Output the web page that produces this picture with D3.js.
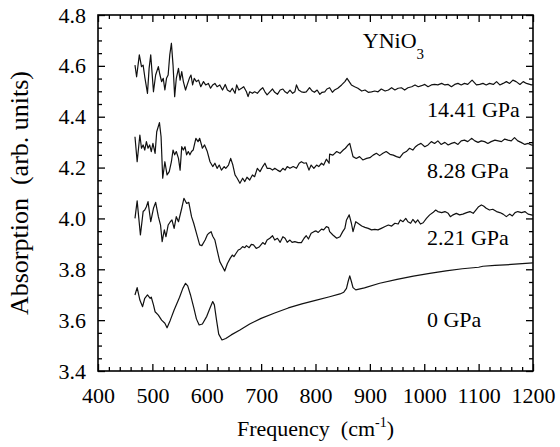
<!DOCTYPE html>
<html>
<head>
<meta charset="utf-8">
<script src="https://cdn.jsdelivr.net/npm/d3@7"></script>
<style>
  body { margin: 0; background: #fff; }
  svg { display: block; }
</style>
</head>
<body>
<div id="chart"></div>
<script>
// -- DATA -- [frequency (cm-1), absorption]

var series0 = [
  [468,3.699],[472,3.728],[477,3.679],[482,3.653],[486,3.686],[491,3.699],[496,3.686],[498,3.69],
  [502,3.66],[505,3.633],[511,3.62],[517,3.60],[523,3.588],[527,3.57],[533,3.60],[540,3.64],
  [550,3.69],[556,3.725],[561,3.745],[565,3.735],[570,3.70],[576,3.65],[581,3.605],[586,3.581],
  [592,3.585],[600,3.615],[606,3.648],[611,3.673],[614,3.66],[618,3.60],[622,3.545],[628,3.522],
  [635,3.528],[645,3.542],[661,3.561],[679,3.585],[700,3.607],[725,3.628],[750,3.648],[775,3.664],
  [800,3.678],[826,3.692],[845,3.703],[852,3.710],[857,3.725],[860,3.752],[863,3.774],[866,3.752],
  [869,3.728],[874,3.719],[890,3.727],[918,3.745],[950,3.76],[980,3.773],[1010,3.784],[1040,3.794],
  [1070,3.802],[1100,3.808],[1108,3.812],[1130,3.815],[1160,3.819],[1200,3.825]
]

var series221 = [
  [468,4.000],[472,4.069],[478,3.935],[483,4.027],[486,4.033],[489,4.046],[492,4.066],[497,3.987],
  [502,4.040],[506,4.063],[511,4.007],[515,3.974],[518,3.909],[522,3.955],[525,3.928],[529,3.974],
  [533,3.987],[536,3.994],[540,3.961],[544,4.007],[548,3.987],[554,4.040],[558,4.079],[563,4.059],
  [567,4.063],[572,4.007],[576,3.981],[581,3.942],[587,3.896],[591,3.893],[597,3.915],[601,3.935],
  [604,3.942],[608,3.948],[611,3.930],[615,3.915],[619,3.876],[624,3.830],[629,3.810],[633,3.793],
  [638,3.823],[643,3.843],[647,3.856],[650,3.850],[654,3.863],[658,3.876],[662,3.880],[666,3.889],
  [670,3.885],[673,3.893],[678,3.885],[682,3.898],[686,3.896],[691,3.882],[697,3.889],[703,3.905],
  [707,3.898],[711,3.915],[716,3.922],[721,3.932],[725,3.915],[730,3.922],[735,3.906],[740,3.928],
  [744,3.922],[748,3.906],[753,3.915],[757,3.906],[762,3.909],[768,3.905],[774,3.905],[779,3.922],
  [783,3.932],[787,3.919],[792,3.942],[797,3.948],[801,3.951],[805,3.945],[811,3.958],[815,3.955],
  [820,3.968],[824,3.964],[826,3.948],[832,3.935],[839,3.922],[845,3.928],[850,3.948],[854,3.961],
  [857,3.994],[862,4.014],[866,3.981],[869,3.948],[874,3.987],[878,3.981],[885,3.970],[891,3.965],
  [897,3.961],[903,3.955],[909,3.957],[915,3.955],[921,3.961],[928,3.968],[934,3.974],[940,3.970],
  [946,3.981],[952,3.978],[956,3.994],[961,3.987],[966,4.000],[970,3.987],[975,3.981],[979,3.996],
  [984,3.983],[988,3.994],[993,3.978],[998,3.983],[1004,4.000],[1010,4.014],[1016,4.023],[1021,4.033],
  [1025,4.027],[1032,4.023],[1038,4.027],[1044,4.020],[1048,4.007],[1053,4.014],[1059,4.020],[1065,4.014],
  [1071,4.017],[1078,4.023],[1084,4.027],[1090,4.020],[1096,4.036],[1100,4.046],[1105,4.053],[1109,4.049],
  [1114,4.040],[1120,4.033],[1126,4.036],[1133,4.027],[1139,4.023],[1145,4.017],[1151,4.007],[1157,4.017],
  [1162,4.010],[1167,4.023],[1172,4.027],[1179,4.023],[1185,4.027],[1191,4.017],[1197,4.014],[1200,4.012]
]

var series828 = [
  [468,4.321],[472,4.223],[477,4.328],[480,4.276],[483,4.289],[486,4.269],[489,4.302],[492,4.276],
  [495,4.289],[498,4.263],[501,4.295],[505,4.256],[508,4.341],[513,4.377],[516,4.321],[519,4.158],
  [523,4.223],[527,4.171],[531,4.184],[535,4.223],[538,4.269],[541,4.250],[544,4.263],[548,4.236],
  [551,4.190],[554,4.282],[557,4.269],[560,4.282],[563,4.250],[566,4.263],[569,4.250],[572,4.263],
  [575,4.269],[580,4.315],[584,4.302],[587,4.315],[592,4.276],[596,4.289],[601,4.263],[606,4.223],
  [611,4.204],[615,4.217],[619,4.197],[623,4.210],[627,4.190],[632,4.204],[635,4.197],[640,4.210],
  [644,4.236],[648,4.210],[652,4.171],[656,4.158],[661,4.138],[666,4.158],[670,4.145],[674,4.162],
  [679,4.151],[684,4.171],[688,4.164],[693,4.197],[698,4.184],[703,4.204],[707,4.217],[711,4.197],
  [716,4.197],[721,4.190],[725,4.197],[730,4.190],[735,4.184],[740,4.197],[744,4.190],[748,4.204],
  [753,4.197],[759,4.204],[765,4.197],[770,4.217],[774,4.223],[779,4.217],[783,4.219],[788,4.190],
  [792,4.210],[797,4.197],[802,4.210],[806,4.204],[811,4.217],[815,4.210],[820,4.233],[825,4.217],
  [826,4.253],[832,4.249],[839,4.263],[845,4.256],[851,4.269],[855,4.276],[860,4.289],[863,4.295],
  [866,4.269],[869,4.243],[875,4.236],[881,4.243],[887,4.230],[894,4.236],[900,4.239],[906,4.249],
  [912,4.256],[918,4.247],[924,4.256],[930,4.263],[937,4.252],[943,4.249],[949,4.243],[955,4.239],
  [961,4.256],[967,4.263],[973,4.276],[979,4.269],[984,4.282],[988,4.289],[994,4.295],[1001,4.282],
  [1007,4.289],[1013,4.302],[1019,4.295],[1025,4.305],[1031,4.291],[1038,4.299],[1044,4.289],[1050,4.295],
  [1056,4.299],[1062,4.291],[1068,4.305],[1074,4.308],[1080,4.302],[1087,4.315],[1093,4.305],[1099,4.299],
  [1105,4.305],[1111,4.302],[1117,4.295],[1123,4.302],[1130,4.308],[1136,4.305],[1142,4.302],[1148,4.312],
  [1154,4.308],[1160,4.305],[1166,4.318],[1172,4.305],[1178,4.299],[1185,4.291],[1191,4.295],[1197,4.289],
  [1200,4.287]
]

var series1441 = [
  [468,4.603],[471,4.557],[476,4.643],[480,4.597],[483,4.603],[486,4.557],[491,4.492],[494,4.590],
  [497,4.643],[502,4.498],[506,4.564],[511,4.597],[514,4.564],[517,4.538],[520,4.551],[523,4.505],
  [526,4.551],[529,4.564],[532,4.643],[535,4.689],[538,4.603],[541,4.479],[544,4.551],[548,4.590],
  [551,4.544],[554,4.577],[557,4.538],[561,4.505],[564,4.525],[568,4.551],[571,4.564],[574,4.525],
  [577,4.551],[581,4.538],[585,4.544],[589,4.518],[594,4.538],[598,4.525],[603,4.531],[607,4.512],
  [611,4.525],[615,4.531],[619,4.518],[624,4.525],[629,4.505],[634,4.527],[638,4.505],[643,4.498],
  [647,4.512],[652,4.492],[655,4.525],[659,4.505],[664,4.512],[668,4.518],[673,4.498],[676,4.479],
  [679,4.498],[684,4.492],[688,4.498],[693,4.492],[698,4.505],[703,4.514],[707,4.498],[711,4.486],
  [716,4.498],[721,4.509],[725,4.496],[730,4.488],[735,4.505],[740,4.509],[744,4.498],[748,4.492],
  [753,4.505],[758,4.492],[762,4.498],[765,4.525],[769,4.505],[774,4.498],[779,4.496],[783,4.498],
  [789,4.514],[794,4.501],[798,4.496],[803,4.505],[808,4.488],[812,4.496],[817,4.498],[821,4.509],
  [826,4.514],[831,4.496],[835,4.505],[841,4.512],[848,4.525],[854,4.538],[858,4.551],[862,4.538],
  [866,4.525],[872,4.518],[878,4.512],[885,4.501],[891,4.505],[897,4.496],[903,4.498],[909,4.501],
  [915,4.498],[921,4.509],[928,4.501],[934,4.505],[940,4.514],[946,4.505],[952,4.512],[958,4.514],
  [964,4.505],[970,4.514],[977,4.518],[983,4.525],[989,4.518],[995,4.522],[1001,4.527],[1007,4.518],
  [1013,4.525],[1019,4.527],[1025,4.525],[1032,4.531],[1038,4.525],[1044,4.527],[1050,4.518],[1056,4.527],
  [1062,4.531],[1068,4.525],[1074,4.531],[1080,4.527],[1088,4.544],[1096,4.525],[1102,4.527],[1108,4.531],
  [1114,4.525],[1120,4.531],[1127,4.527],[1133,4.538],[1139,4.525],[1145,4.531],[1151,4.538],[1157,4.531],
  [1163,4.544],[1169,4.538],[1176,4.527],[1182,4.538],[1188,4.531],[1194,4.527],[1197,4.525],[1200,4.526]
]

var seriesList = [series0, series221, series828, series1441]
var pressureLabels = ['0 GPa', '2.21 GPa', '8.28 GPa', '14.41 GPa']
// label anchor (data units): left edge frequency, baseline absorption
var labelFreq = 1005
var labelAbs = [3.573, 3.896, 4.159, 4.399]

var xTicks = d3.range(400, 1201, 100)
var yTicks = d3.range(3.4, 4.81, 0.2)

// -- LAYOUT --

var width = 560
var height = 447
var margin = {left: 98, right: 27, top: 15, bottom: 76}
var serif = "'Liberation Serif'"

var svg = d3.select('#chart').append('svg')
  .attr('width', width)
  .attr('height', height)

var xMap = d3.scaleLinear()
  .domain([400, 1200])
  .range([margin.left, width - margin.right])

var yMap = d3.scaleLinear()
  .domain([3.4, 4.8])
  .range([height - margin.bottom, margin.top])

// -- AXES --

var xMinor = d3.range(400, 1201, 20).filter(d => d % 100 != 0)
var yMinor = d3.range(0, 29).map(i => 3.4 + i * 0.05).filter((d, i) => i % 4 != 0)

function addAxis(axis, tx, ty) {
  var g = svg.append('g')
    .attr('transform', 'translate(' + tx + ',' + ty + ')')
    .call(axis)
  g.select('.domain').remove()
  g.selectAll('line').style('stroke', '#000').style('stroke-width', '1.3px')
  g.selectAll('text')
    .style('font-family', serif)
    .style('font-size', '22px')
    .style('fill', '#000')
  return g
}

var bottom = height - margin.bottom
var right = width - margin.right

addAxis(d3.axisBottom(xMap).tickValues(xTicks).tickSize(-7).tickPadding(16).tickFormat(d3.format('d')), 0, bottom)
addAxis(d3.axisBottom(xMap).tickValues(xMinor).tickSize(-4).tickFormat(''), 0, bottom)
addAxis(d3.axisTop(xMap).tickValues(xTicks).tickSize(-7).tickFormat(''), 0, margin.top)
addAxis(d3.axisTop(xMap).tickValues(xMinor).tickSize(-4).tickFormat(''), 0, margin.top)

addAxis(d3.axisLeft(yMap).tickValues(yTicks).tickSize(-7).tickPadding(12).tickFormat(d3.format('.1f')), margin.left, 0)
addAxis(d3.axisLeft(yMap).tickValues(yMinor).tickSize(-4).tickFormat(''), margin.left, 0)
addAxis(d3.axisRight(yMap).tickValues(yTicks).tickSize(-7).tickFormat(''), right, 0)
addAxis(d3.axisRight(yMap).tickValues(yMinor).tickSize(-4).tickFormat(''), right, 0)

// frame
svg.append('rect')
  .attr('x', margin.left)
  .attr('y', margin.top)
  .attr('width', right - margin.left)
  .attr('height', bottom - margin.top)
  .style('fill', 'none')
  .style('stroke', '#000')
  .style('stroke-width', '1.6px')

// -- CURVES --

var line = d3.line()
  .x(d => xMap(d[0]))
  .y(d => yMap(d[1]))

svg.append('g').selectAll('path')
  .data(seriesList)
  .enter().append('path')
    .attr('d', line)
    .style('fill', 'none')
    .style('stroke', '#111')
    .style('stroke-width', '1.2px')
    .style('stroke-linejoin', 'round')

// -- LABELS --

svg.append('g').selectAll('text')
  .data(pressureLabels)
  .enter().append('text')
    .attr('x', xMap(labelFreq))
    .attr('y', (d, i) => yMap(labelAbs[i]))
    .style('font-family', serif)
    .style('font-size', '22px')
    .style('fill', '#000')
    .text(d => d)

var title = svg.append('text')
  .attr('x', xMap(887))
  .attr('y', yMap(4.670))
  .style('font-family', serif)
  .style('font-size', '22px')
  .style('fill', '#000')
title.append('tspan').text('YNiO')
title.append('tspan')
  .attr('dy', 11)
  .style('font-size', '15px')
  .text('3')

// axis titles
var xTitle = svg.append('text')
  .attr('x', (margin.left + right) / 2)
  .attr('y', 436)
  .style('font-family', serif)
  .style('font-size', '22px')
  .style('text-anchor', 'middle')
  .style('fill', '#000')
  .style('white-space', 'pre')
xTitle.append('tspan').text('Frequency  (cm')
xTitle.append('tspan').attr('dy', -9).style('font-size', '14px').text('-1')
xTitle.append('tspan').attr('dy', 9).text(')')

svg.append('text')
  .attr('transform', 'translate(28,' + ((margin.top + bottom) / 2) + ') rotate(-90)')
  .style('font-family', serif)
  .style('font-size', '26px')
  .style('text-anchor', 'middle')
  .style('fill', '#000')
  .style('white-space', 'pre')
  .text('Absorption  (arb. units)')
</script>
</body>
</html>
